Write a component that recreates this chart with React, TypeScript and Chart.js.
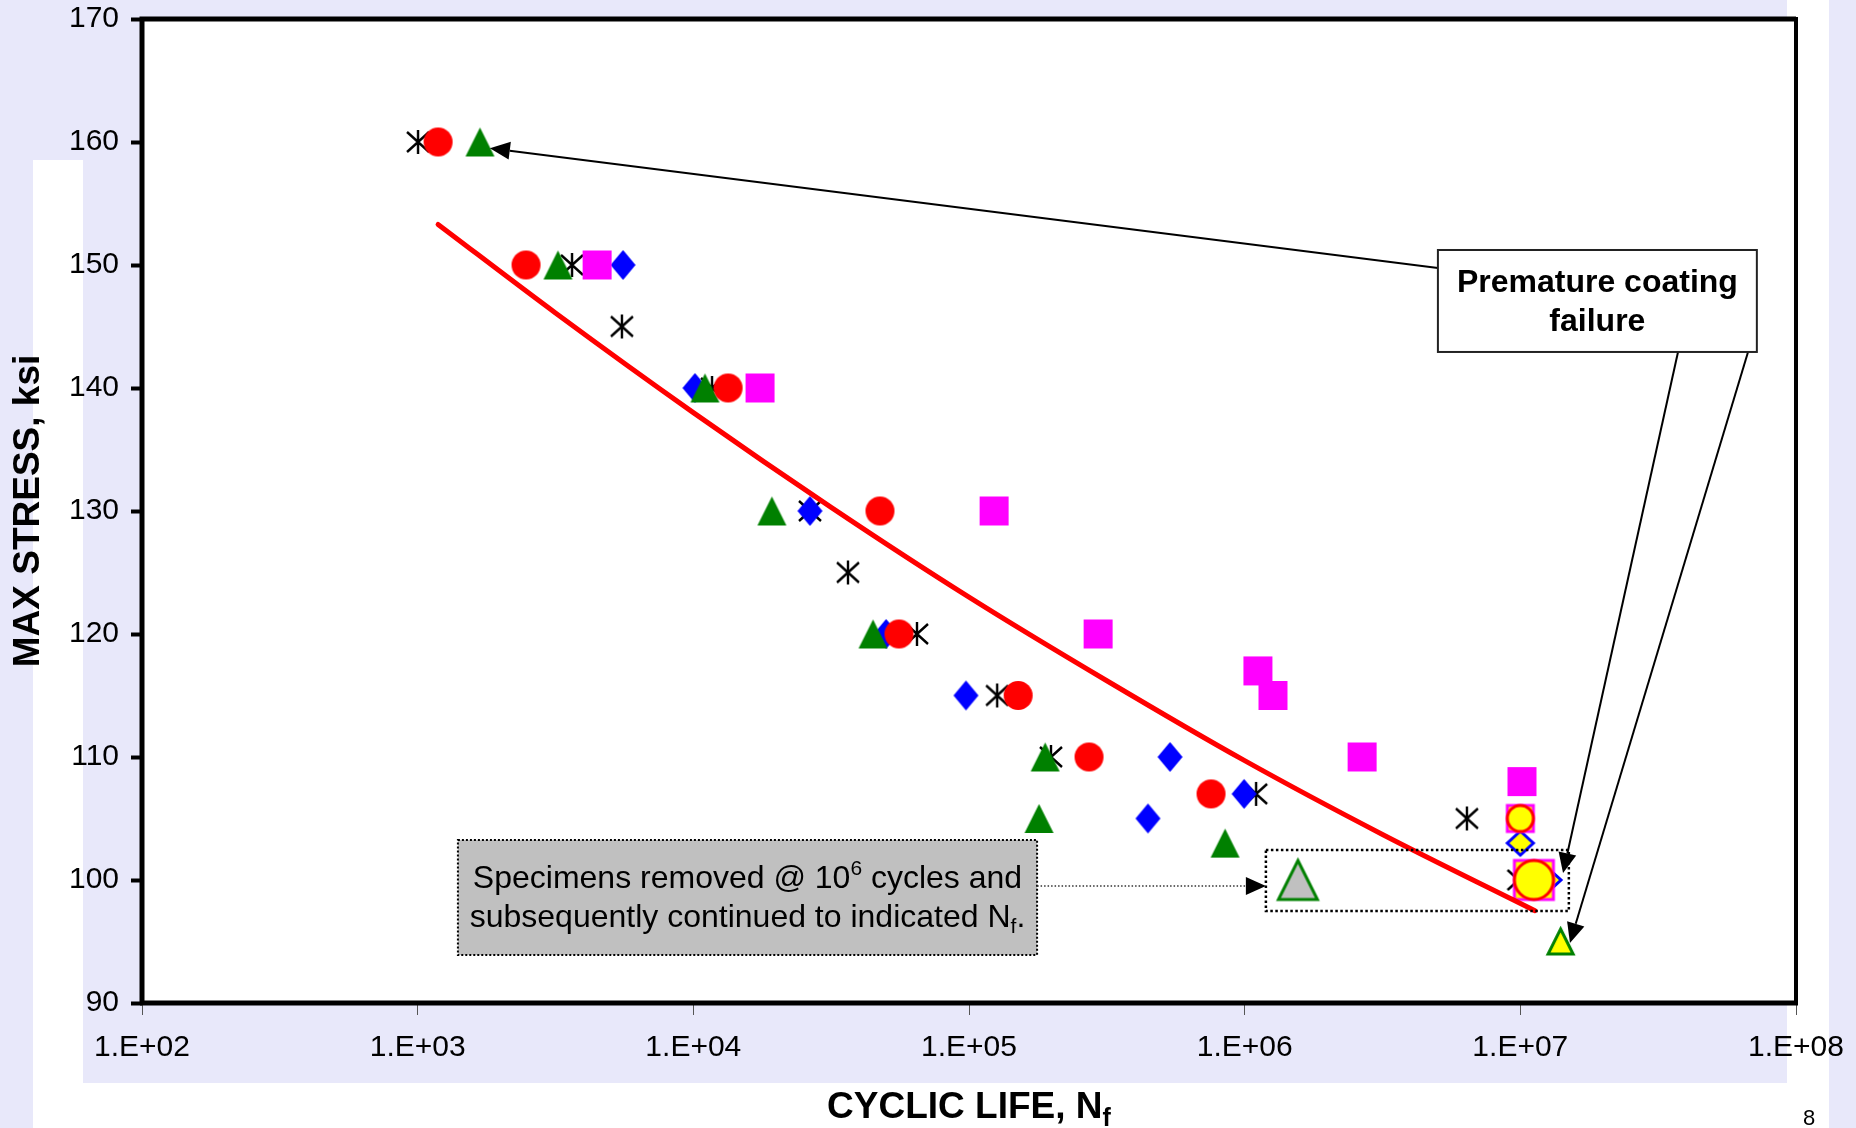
import React, { useEffect, useRef } from 'react';
import { Chart, registerables } from 'chart.js';

Chart.register(...registerables);

const FONT = '"Liberation Sans", Arial, Helvetica, sans-serif';
const W = 1856;
const H = 1128;
const AREA = { left: 142, top: 19, right: 1796, bottom: 1003 };

// ---------------- data (cycles to failure, max stress ksi) ----------------
const xTickValues = [1e2, 1e3, 1e4, 1e5, 1e6, 1e7, 1e8];
const yTickValues = [90, 100, 110, 120, 130, 140, 150, 160, 170];

const asteriskCycles = [1003, 3631, 5508, 11690, 26490, 36390, 64770, 126500, 198300, 1.1e6, 6.4e6, 9.85e6];
const asteriskStress = [160, 150, 145, 140, 130, 125, 120, 115, 110, 107, 105, 100];

const circleCycles = [1186, 2472, 13370, 47530, 55710, 150800, 272500, 755000];
const circleStress = [160, 150, 140, 130, 120, 115, 110, 107];

const triangleCycles = [1683, 3228, 11020, 19280, 44870, 188900, 179500, 849000];
const triangleStress = [160, 150, 140, 130, 120, 110, 105, 103];

const squareCycles = [4477, 17460, 123300, 293900, 1.117e6, 1.267e6, 2.667e6, 1.014e7];
const squareStress = [150, 140, 130, 120, 117, 115, 110, 108];

const diamondCycles = [5559, 10140, 26490, 50030, 97500, 536000, 446000, 995000];
const diamondStress = [150, 140, 130, 120, 115, 110, 105, 107];

// specimens removed at 1e6 cycles and continued
const contCircleCycles = [1.0e7, 1.12e7];
const contCircleStress = [105, 100];
const contSquareCycles = [1.0e7, 1.12e7];
const contSquareStress = [105, 100];
const contDiamondCycles = [1.0e7, 1.26e7];
const contDiamondStress = [103, 100];
const contTriangleCycles = [1.4e7];
const contTriangleStress = [95];
const removedTriangleCycles = [1.56e6];
const removedTriangleStress = [100];

// fitted curve
const fitCycles = [1186, 3162, 10000, 31620, 100000, 316200, 1.0e6, 3.162e6, 1.13e7];
const fitStress = [153.3, 146.1, 138.0, 130.3, 123.0, 116.2, 109.7, 103.7, 97.5];

const pts = (xs: number[], ys: number[]) => xs.map((x, i) => ({ x, y: ys[i] }));

// ---------------- marker images ----------------
function makeMarker(shape: string, w: number, h: number, fill: string | null, stroke: string | null, lw: number) {
  const pad = Math.ceil(lw) + 2;
  const c = document.createElement('canvas');
  c.width = Math.ceil(w) + pad * 2;
  c.height = Math.ceil(h) + pad * 2;
  const ctx = c.getContext('2d')!;
  const cx = c.width / 2;
  const cy = c.height / 2;
  ctx.beginPath();
  if (shape === 'circle') {
    ctx.ellipse(cx, cy, w / 2, h / 2, 0, 0, Math.PI * 2);
  } else if (shape === 'square') {
    ctx.rect(cx - w / 2, cy - h / 2, w, h);
  } else if (shape === 'triangle') {
    ctx.moveTo(cx, cy - h / 2);
    ctx.lineTo(cx + w / 2, cy + h / 2);
    ctx.lineTo(cx - w / 2, cy + h / 2);
    ctx.closePath();
  } else if (shape === 'diamond') {
    ctx.moveTo(cx, cy - h / 2);
    ctx.lineTo(cx + w / 2, cy);
    ctx.lineTo(cx, cy + h / 2);
    ctx.lineTo(cx - w / 2, cy);
    ctx.closePath();
  } else if (shape === 'star') {
    ctx.moveTo(cx, cy - h / 2);
    ctx.lineTo(cx, cy + h / 2);
    ctx.moveTo(cx - w / 2, cy - h / 2 + 2);
    ctx.lineTo(cx + w / 2, cy + h / 2 - 2);
    ctx.moveTo(cx + w / 2, cy - h / 2 + 2);
    ctx.lineTo(cx - w / 2, cy + h / 2 - 2);
  }
  if (fill) {
    ctx.fillStyle = fill;
    ctx.fill();
  }
  if (stroke) {
    ctx.strokeStyle = stroke;
    ctx.lineWidth = lw;
    ctx.lineJoin = 'miter';
    ctx.stroke();
  }
  return c;
}

// ---------------- annotation geometry (log10 cycles, ksi) ----------------
const premBox = { x1: 6.701, x2: 7.858, y1: 151.22, y2: 142.93 };
const premArrows = [
  { fx: 6.701, fy: 149.76, tx: 3.262, ty: 159.5 },
  { fx: 7.572, fy: 142.93, tx: 7.155, ty: 100.57 },
  { fx: 7.826, fy: 142.93, tx: 7.18, ty: 94.88 },
];
const specBox = { x1: 3.146, x2: 5.247, y1: 103.25, y2: 93.9 };
const connector = { fx: 5.247, fy: 99.51, tx: 6.077, ty: 99.51 };
const dotRect = { x1: 6.077, x2: 7.176, y1: 102.44, y2: 97.48 };

function drawArrow(ctx: CanvasRenderingContext2D, x1: number, y1: number, x2: number, y2: number, len = 20, wid = 18) {
  const ang = Math.atan2(y2 - y1, x2 - x1);
  const bx = x2 - Math.cos(ang) * len;
  const by = y2 - Math.sin(ang) * len;
  ctx.beginPath();
  ctx.moveTo(x1, y1);
  ctx.lineTo(bx, by);
  ctx.stroke();
  ctx.beginPath();
  ctx.moveTo(x2, y2);
  ctx.lineTo(bx + Math.sin(ang) * wid / 2, by - Math.cos(ang) * wid / 2);
  ctx.lineTo(bx - Math.sin(ang) * wid / 2, by + Math.cos(ang) * wid / 2);
  ctx.closePath();
  ctx.fill();
}

type Seg = { t: string; font: string; dy?: number };
function drawRich(ctx: CanvasRenderingContext2D, segs: Seg[], cx: number, baseline: number) {
  let total = 0;
  segs.forEach((s) => {
    ctx.font = s.font;
    total += ctx.measureText(s.t).width;
  });
  let x = cx - total / 2;
  ctx.textAlign = 'left';
  ctx.textBaseline = 'alphabetic';
  segs.forEach((s) => {
    ctx.font = s.font;
    ctx.fillText(s.t, x, baseline + (s.dy || 0));
    x += ctx.measureText(s.t).width;
  });
}

const LAV = '#E8E8FA';

const bgPlugin = {
  id: 'bg',
  beforeDraw(chart: any) {
    const ctx = chart.ctx as CanvasRenderingContext2D;
    const a = chart.chartArea;
    ctx.save();
    ctx.fillStyle = '#FFFFFF';
    ctx.fillRect(0, 0, W, H);
    ctx.fillStyle = LAV;
    ctx.fillRect(0, 0, 33, H);
    ctx.fillRect(1829, 0, W - 1829, H);
    ctx.fillRect(83, 0, 1787 - 83, 1083);
    ctx.fillRect(33, 0, 50, 160);
    ctx.fillStyle = '#FFFFFF';
    ctx.fillRect(a.left, a.top, a.right - a.left, a.bottom - a.top);
    ctx.restore();
  },
};

const annoPlugin = {
  id: 'anno',
  afterDraw(chart: any) {
    const ctx = chart.ctx as CanvasRenderingContext2D;
    const sx = chart.scales.x;
    const sy = chart.scales.y;
    const a = chart.chartArea;
    const px = (l: number) => sx.getPixelForValue(Math.pow(10, l));
    const py = (s: number) => sy.getPixelForValue(s);
    ctx.save();

    // plot frame
    ctx.strokeStyle = '#000';
    ctx.lineWidth = 5;
    ctx.beginPath();
    ctx.moveTo(a.left, a.bottom);
    ctx.lineTo(a.left, a.top);
    ctx.lineTo(a.right, a.top);
    ctx.stroke();
    ctx.beginPath();
    ctx.moveTo(a.left - 2, a.bottom);
    ctx.lineTo(a.right + 2, a.bottom);
    ctx.stroke();
    ctx.lineWidth = 4;
    ctx.beginPath();
    ctx.moveTo(a.right, a.top - 2);
    ctx.lineTo(a.right, a.bottom);
    ctx.stroke();

    // dotted rectangle around continued specimens
    ctx.setLineDash([2.5, 2.5]);
    ctx.lineWidth = 2.5;
    ctx.strokeStyle = '#000';
    ctx.strokeRect(px(dotRect.x1), py(dotRect.y1), px(dotRect.x2) - px(dotRect.x1), py(dotRect.y2) - py(dotRect.y1));

    // gray specimens box
    const bx1 = px(specBox.x1), bx2 = px(specBox.x2), by1 = py(specBox.y1), by2 = py(specBox.y2);
    ctx.setLineDash([]);
    ctx.fillStyle = '#C0C0C0';
    ctx.fillRect(bx1, by1, bx2 - bx1, by2 - by1);
    ctx.setLineDash([2, 2]);
    ctx.lineWidth = 2;
    ctx.strokeRect(bx1, by1, bx2 - bx1, by2 - by1);
    ctx.setLineDash([]);
    ctx.fillStyle = '#000';
    const bcx = (bx1 + bx2) / 2;
    drawRich(ctx, [
      { t: 'Specimens removed @ 10', font: `32px ${FONT}` },
      { t: '6', font: `21px ${FONT}`, dy: -13 },
      { t: ' cycles and', font: `32px ${FONT}` },
    ], bcx, by1 + 48);
    drawRich(ctx, [
      { t: 'subsequently continued to indicated N', font: `32px ${FONT}` },
      { t: 'f', font: `21px ${FONT}`, dy: 6 },
      { t: '.', font: `32px ${FONT}` },
    ], bcx, by1 + 87);

    // dotted connector with arrow
    ctx.setLineDash([1.5, 2]);
    ctx.lineWidth = 1.5;
    ctx.strokeStyle = '#333';
    const cx1 = px(connector.fx), cy1 = py(connector.fy), cx2 = px(connector.tx), cy2 = py(connector.ty);
    ctx.beginPath();
    ctx.moveTo(cx1, cy1);
    ctx.lineTo(cx2 - 20, cy2);
    ctx.stroke();
    ctx.setLineDash([]);
    ctx.fillStyle = '#000';
    ctx.beginPath();
    ctx.moveTo(cx2, cy2);
    ctx.lineTo(cx2 - 20, cy2 - 9);
    ctx.lineTo(cx2 - 20, cy2 + 9);
    ctx.closePath();
    ctx.fill();

    // premature coating failure arrows
    ctx.strokeStyle = '#000';
    ctx.fillStyle = '#000';
    ctx.lineWidth = 2;
    premArrows.forEach((r) => drawArrow(ctx, px(r.fx), py(r.fy), px(r.tx), py(r.ty)));

    // premature box
    const px1 = px(premBox.x1), px2 = px(premBox.x2), py1 = py(premBox.y1), py2 = py(premBox.y2);
    ctx.fillStyle = '#FFFFFF';
    ctx.fillRect(px1, py1, px2 - px1, py2 - py1);
    ctx.lineWidth = 2;
    ctx.strokeStyle = '#222';
    ctx.strokeRect(px1, py1, px2 - px1, py2 - py1);
    ctx.fillStyle = '#000';
    ctx.font = `bold 32px ${FONT}`;
    ctx.textAlign = 'center';
    ctx.textBaseline = 'alphabetic';
    ctx.fillText('Premature coating', (px1 + px2) / 2, py1 + 42);
    ctx.fillText('failure', (px1 + px2) / 2, py1 + 81);

    // axis titles
    ctx.fillStyle = '#000';
    ctx.save();
    ctx.translate(39, (a.top + a.bottom) / 2);
    ctx.rotate(-Math.PI / 2);
    ctx.font = `bold 37px ${FONT}`;
    ctx.textAlign = 'center';
    ctx.textBaseline = 'alphabetic';
    ctx.fillText('MAX STRESS, ksi', 0, 0);
    ctx.restore();

    drawRich(ctx, [
      { t: 'CYCLIC LIFE, N', font: `bold 37px ${FONT}` },
      { t: 'f', font: `bold 25px ${FONT}`, dy: 8 },
    ], (a.left + a.right) / 2, 1118);

    // page number
    ctx.font = `22px ${FONT}`;
    ctx.textAlign = 'center';
    ctx.textBaseline = 'top';
    ctx.fillText('8', 1809, 1108);

    ctx.restore();
  },
};

export default function App() {
  const ref = useRef<HTMLCanvasElement>(null);

  useEffect(() => {
    document.body.style.margin = '0';
    document.body.style.overflow = 'hidden';
    const canvas = ref.current!;

    const mCircle = makeMarker('circle', 29, 29, '#FF0000', null, 0);
    const mSquare = makeMarker('square', 29, 29, '#FF00FF', null, 0);
    const mTriangle = makeMarker('triangle', 29, 29, '#008000', null, 0);
    const mDiamond = makeMarker('diamond', 25, 30, '#0000FF', null, 0);
    const mStar = makeMarker('star', 22, 24, null, '#000000', 2.4);
    const mYCircle = makeMarker('circle', 26, 26, '#FFFF00', '#FF0000', 3);
    const mYCircleBig = makeMarker('circle', 39, 39, '#FFFF00', '#FF0000', 3);
    const mYSquare = makeMarker('square', 26, 26, '#FFFF00', '#FF00FF', 3);
    const mYSquareBig = makeMarker('square', 39, 39, '#FFFF00', '#FF00FF', 3);
    const mYDiamond = makeMarker('diamond', 26, 24, '#FFFF00', '#0000FF', 3);
    const mYTriangle = makeMarker('triangle', 25, 25, '#FFFF00', '#008000', 3);
    const mGTriangleBig = makeMarker('triangle', 39, 39, '#C0C0C0', '#008000', 3);

    const scatter = (label: string, data: any[], style: any) => ({
      label,
      data,
      showLine: false,
      pointStyle: style,
      pointRadius: 10,
      pointHoverRadius: 10,
    });

    const chart = new Chart(canvas, {
      type: 'scatter',
      data: {
        datasets: [
          {
            label: 'Fit',
            type: 'line',
            data: pts(fitCycles, fitStress),
            showLine: true,
            borderColor: '#FF0000',
            borderWidth: 5,
            pointRadius: 0,
            cubicInterpolationMode: 'monotone',
            borderCapStyle: 'round',
            fill: false,
          } as any,
          scatter('Continued (circle)', pts(contCircleCycles, contCircleStress), [mYCircle, mYCircleBig]),
          scatter('Continued (square)', pts(contSquareCycles, contSquareStress), [mYSquare, mYSquareBig]),
          scatter('Continued (diamond)', pts(contDiamondCycles, contDiamondStress), [mYDiamond, mYDiamond]),
          scatter('Circle', pts(circleCycles, circleStress), mCircle),
          scatter('Square', pts(squareCycles, squareStress), mSquare),
          scatter('Triangle', pts(triangleCycles, triangleStress), mTriangle),
          scatter('Continued (triangle)', pts(contTriangleCycles, contTriangleStress), mYTriangle),
          scatter('Removed (triangle)', pts(removedTriangleCycles, removedTriangleStress), mGTriangleBig),
          scatter('Diamond', pts(diamondCycles, diamondStress), mDiamond),
          scatter('Asterisk', pts(asteriskCycles, asteriskStress), mStar),
        ],
      },
      options: {
        animation: false,
        responsive: false,
        devicePixelRatio: 1,
        events: [],
        layout: { padding: { left: 0, top: AREA.top, right: W - AREA.right, bottom: 0 } },
        plugins: {
          legend: { display: false },
          tooltip: { enabled: false },
          title: { display: false },
        },
        scales: {
          x: {
            type: 'logarithmic',
            position: 'bottom',
            min: 100,
            max: 1e8,
            afterBuildTicks: (s: any) => {
              s.ticks = xTickValues.map((v) => ({ value: v }));
            },
            afterFit: (s: any) => {
              s.height = H - AREA.bottom;
              s.paddingLeft = 0;
              s.paddingRight = 0;
            },
            grid: { drawOnChartArea: false, drawTicks: true, tickLength: 12, tickWidth: 1, tickColor: '#555' },
            border: { display: false },
            ticks: {
              autoSkip: false,
              maxRotation: 0,
              minRotation: 0,
              padding: 15,
              color: '#000',
              font: { family: FONT, size: 30 },
              callback: (v: any) => {
                const e = Math.round(Math.log10(Number(v)));
                return '1.E+' + (e < 10 ? '0' : '') + e;
              },
            },
          },
          y: {
            type: 'linear',
            min: 90,
            max: 170,
            afterBuildTicks: (s: any) => {
              s.ticks = yTickValues.map((v) => ({ value: v }));
            },
            afterFit: (s: any) => {
              s.width = AREA.left;
              s.paddingTop = 0;
              s.paddingBottom = 0;
            },
            grid: { drawOnChartArea: false, drawTicks: true, tickLength: 11, tickWidth: 4, tickColor: '#000' },
            border: { display: false },
            ticks: {
              padding: 12,
              color: '#000',
              font: { family: FONT, size: 30 },
            },
          },
        },
      } as any,
      plugins: [bgPlugin, annoPlugin],
    });

    return () => {
      chart.destroy();
    };
  }, []);

  return (
    <div style={{ width: W, height: H, position: 'relative' }}>
      <canvas ref={ref} width={W} height={H} style={{ display: 'block', width: W, height: H }} />
    </div>
  );
}
